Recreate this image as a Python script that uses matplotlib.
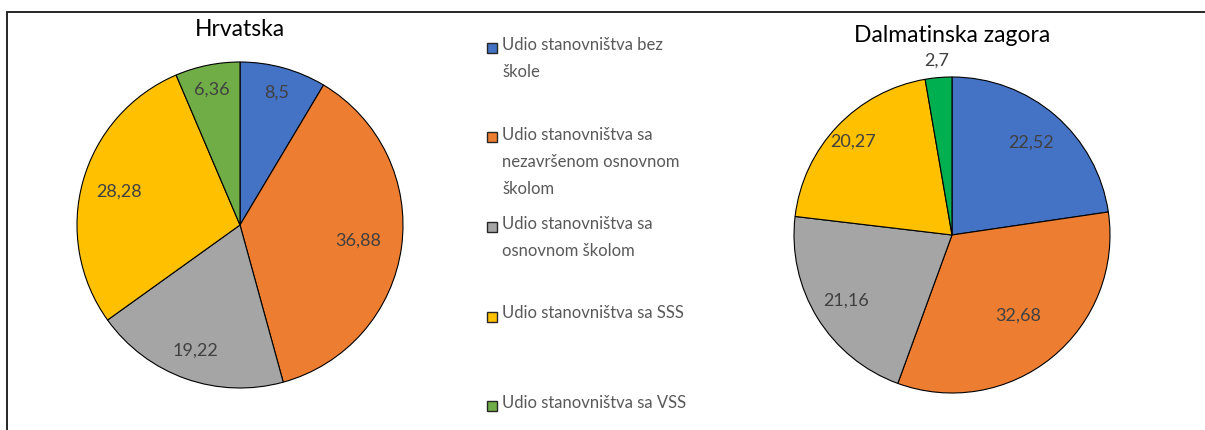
import numpy as np
import matplotlib
matplotlib.use("Agg")
import matplotlib.pyplot as plt
from matplotlib.patches import Rectangle

plt.rcParams['font.family'] = ['Lato', 'DejaVu Sans']

# education structure (%)
categories = ['Udio stanovništva bez\nškole',
              'Udio stanovništva sa\nnezavršenom osnovnom\nškolom',
              'Udio stanovništva sa\nosnovnom školom',
              'Udio stanovništva sa SSS',
              'Udio stanovništva sa VSS']
hrvatska = [8.5, 36.88, 19.22, 28.28, 6.36]
zagora = [22.52, 32.68, 21.16, 20.27, 2.7]
hrvatska_labels = ['8,5', '36,88', '19,22', '28,28', '6,36']
zagora_labels = ['22,52', '32,68', '21,16', '20,27', '2,7']

colors_hr = ['#4472C4', '#ED7D31', '#A5A5A5', '#FFC000', '#70AD47']
colors_dz = ['#4472C4', '#ED7D31', '#A5A5A5', '#FFC000', '#00B050']

# radial position of each value label (fraction of radius)
lab_r_hr = [0.84, 0.73, 0.82, 0.77, 0.85]
lab_r_dz = [0.77, 0.66, 0.79, 0.86, 1.11]

W, H = 1205, 430
fig = plt.figure(figsize=(W / 100, H / 100), dpi=100)

def pie_axes(cx, cy, r):
    return fig.add_axes([(cx - r) / W, (H - cy - r) / H, 2 * r / W, 2 * r / H])

def draw_pie(ax, values, labels, colors, radii, title, title_y):
    wedges, _ = ax.pie(values, colors=colors, startangle=90, counterclock=False,
                       wedgeprops=dict(edgecolor='black', linewidth=0.8))
    for w, lab, rr in zip(wedges, labels, radii):
        ang = np.deg2rad((w.theta1 + w.theta2) / 2)
        ax.text(rr * np.cos(ang), rr * np.sin(ang), lab, ha='center', va='center',
                fontsize=13, color='#404040', clip_on=False)
    ax.set_xlim(-1, 1)
    ax.set_ylim(-1, 1)
    ax.set_aspect('equal')
    ax.axis('off')
    ax.text(0, title_y, title, ha='center', va='center', fontsize=16.5,
            color='black', clip_on=False)

ax1 = pie_axes(240, 225, 163)
draw_pie(ax1, hrvatska, hrvatska_labels, colors_hr, lab_r_hr, 'Hrvatska', 1.2)

ax2 = pie_axes(952, 235, 158)
draw_pie(ax2, zagora, zagora_labels, colors_dz, lab_r_dz, 'Dalmatinska zagora', 1.26)

# legend, drawn by hand so entries keep their wide spacing
for i, (cat, col) in enumerate(zip(categories, colors_hr)):
    y = 48 + i * 89.5
    fig.add_artist(Rectangle((487 / W, 1 - (y + 5) / H), 10 / W, 10 / H,
                             facecolor=col, edgecolor='#262626', linewidth=1.0))
    fig.text(502 / W, 1 - (y - 11) / H, cat, ha='left', va='top', fontsize=12,
             color='#595959', linespacing=1.85)

# chart area frame
fig.add_artist(Rectangle((7 / W, -0.1), 1.2, 1.1 - 12 / H, fill=False,
                         edgecolor='#262626', linewidth=1.4))

fig.savefig('out.png', dpi=100)
